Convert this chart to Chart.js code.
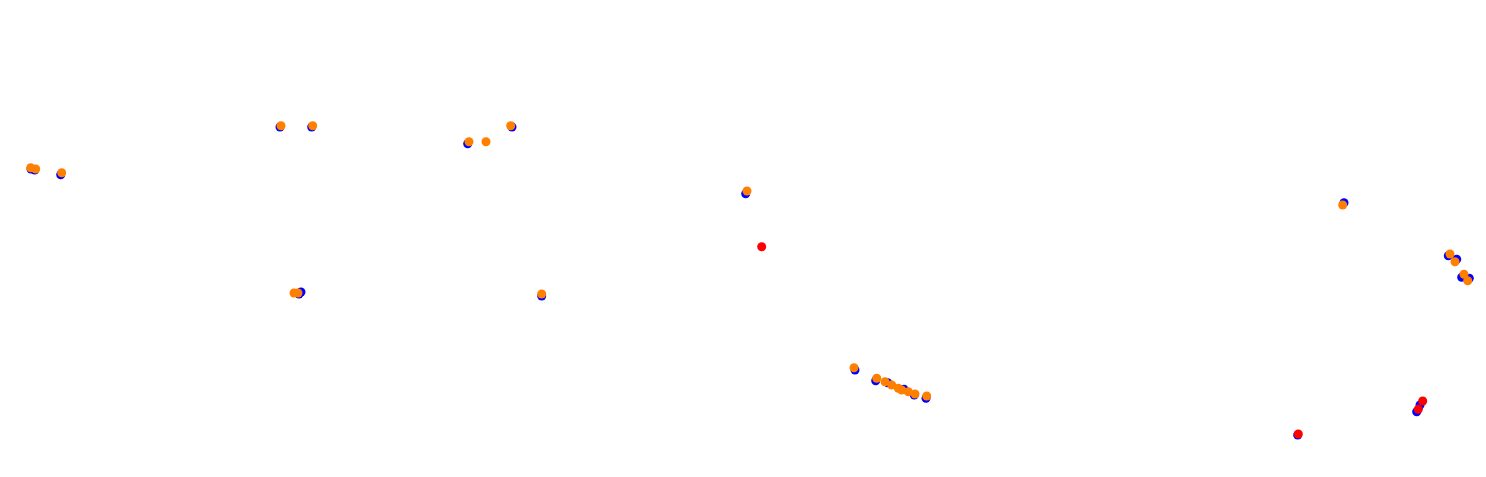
<!DOCTYPE html>
<html>
<head>
<meta charset="utf-8">
<title>Track points</title>
<script src="https://cdn.jsdelivr.net/npm/chart.js@4"></script>
<style>
  html, body { margin: 0; padding: 0; background: #fff; }
  #wrap { width: 1486px; height: 477px; }
</style>
</head>
<body>
<div id="wrap"><canvas id="scatterChart" width="1486" height="477"></canvas></div>
<script>
// Blue points (drawn underneath)
const blueX = [31, 34.7, 60.7, 280, 311.7, 299, 301, 467.7, 512, 541.7, 745.7, 855, 875.7, 887.7, 904, 914.3, 926, 1297.7, 1416.7, 1420, 1344, 1448.3, 1456.7, 1461.7, 1469.3];
const blueY = [169, 170, 174.7, 127, 127, 294, 292, 143.7, 127, 296, 193.7, 370, 380.7, 382.7, 389.3, 395, 398.3, 435, 411.7, 405, 202.7, 255.7, 259.3, 277.3, 278.3];

// Orange points
const orangeX = [30.7, 35.7, 61.7, 281, 312.7, 294, 298, 469, 486, 510.7, 541.7, 747, 854, 876.7, 885, 891.7, 898.3, 901.7, 908.3, 915, 926.7, 1342.7, 1450, 1455, 1464, 1467.7];
const orangeY = [167.7, 169, 172.7, 125.7, 125.7, 293, 293, 141.7, 141.7, 125.7, 294, 191, 367.7, 378.3, 381.7, 385, 388.3, 390, 391.7, 394, 396, 205, 254, 261.7, 274.3, 280.7];

// Red points (drawn on top)
const redX = [761.7, 1298.3, 1422.7, 1418.3];
const redY = [246.7, 434, 401, 409.3];

function toPoints(xs, ys) {
  return xs.map(function(x, i) { return { x: x, y: ys[i] }; });
}

const ctx = document.getElementById("scatterChart").getContext("2d");
new Chart(ctx, {
  type: "scatter",
  data: {
    datasets: [
      { label: "red", data: toPoints(redX, redY), backgroundColor: "#ff0000", order: 1 },
      { label: "orange", data: toPoints(orangeX, orangeY), backgroundColor: "#ff8000", order: 2 },
      { label: "blue", data: toPoints(blueX, blueY), backgroundColor: "#0000ff", order: 3 }
    ]
  },
  options: {
    responsive: false,
    animation: false,
    clip: false,
    layout: { padding: 0, autoPadding: false },
    elements: { point: { radius: 4.5, borderWidth: 0, hoverRadius: 4.5 } },
    plugins: { legend: { display: false }, tooltip: { enabled: false } },
    scales: {
      x: { type: "linear", min: 0, max: 1486, display: false },
      y: { type: "linear", min: 0, max: 477, reverse: true, display: false }
    }
  }
});
</script>
</body>
</html>
